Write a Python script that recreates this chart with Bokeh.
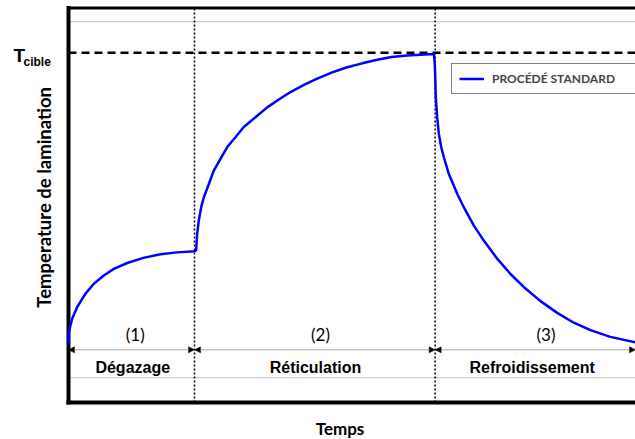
import math
from bokeh.plotting import figure
from bokeh.models import Arrow, NormalHead, Legend, LegendItem, ColumnDataSource
from bokeh.core.properties import value
from bokeh.embed import file_html
from bokeh.resources import INLINE

# ---- data ----
time = [0, 0.05, 0.29, 0.69, 1.35, 2.01, 2.8, 3.6, 4.66, 5.94, 7.3, 8.63, 10.0,
        10.13, 10.21, 10.34, 10.53, 10.74, 11.14, 11.53, 12.06, 12.6, 13.25, 13.91,
        14.84, 15.77, 16.69, 17.62, 18.68, 19.74, 20.93, 22.12, 23.31, 24.5, 25.65,
        26.88, 27.94, 29.0,
        29.07, 29.1, 29.15, 29.26, 29.39, 29.58, 29.79, 30.18, 30.85, 31.37, 32.17,
        32.96, 34.02, 35.08, 36.13, 37.46, 38.79, 40.1, 41.43, 43.0, 45.0]
temperature = [15.0, 18.3, 21.3, 24.3, 27.7, 30.2, 32.3, 34.0, 35.5, 36.8, 37.7, 38.2, 38.5,
               38.7, 42.9, 46.3, 49.7, 52.2, 55.6, 59.0, 62.0, 65.0, 67.5, 70.1,
               72.6, 75.1, 77.1, 79.0, 80.8, 82.4, 84.0, 85.3, 86.3, 87.2, 87.9,
               88.3, 88.5, 88.7,
               86.2, 83.6, 77.7, 72.6, 68.4, 65.0, 62.4, 58.2, 53.1, 49.7, 45.0,
               41.2, 36.6, 32.7, 29.4, 25.8, 22.8, 20.3, 18.4, 16.7, 15.3]
phase_bounds = [0, 10, 29.1, 45]
phase_names = ["Dégazage", "Réticulation", "Refroidissement"]
phase_numbers = ["(1)", "(2)", "(3)"]
name_x = [5.1, 19.6, 36.8]
number_x = [5.3, 20.0, 37.9]
t_cible = 89
series_label = "PROCÉDÉ STANDARD"
x_title = "Temps"
y_title = "Temperature de lamination"

X0, X1 = phase_bounds[0], phase_bounds[-1]
p = figure(width=635, height=439, x_range=(-68 / 12.6, X1), y_range=(-37 / 3.93, 402 / 3.93),
           output_backend="svg", toolbar_location=None,
           min_border_left=0, min_border_right=0, min_border_top=0, min_border_bottom=0)
p.outline_line_color = None
p.grid.visible = False
p.axis.visible = False
p.background_fill_color = "white"

# light grey rules and phase arrow line
p.segment(x0=[X0, X0], y0=[96.9, 6.3], x1=[X1, X1], y1=[96.9, 6.3],
          line_color="#c0c0c0", line_width=1)
for a, b in zip(phase_bounds[:-1], phase_bounds[1:]):
    p.add_layout(Arrow(x_start=a, y_start=13.4, x_end=b, y_end=13.4,
                       line_color="#a6a6a6", line_width=1,
                       start=NormalHead(size=6, fill_color="black", line_color="black", line_width=0.5),
                       end=NormalHead(size=6, fill_color="black", line_color="black", line_width=0.5)))
# phase boundaries (dotted)
inner = phase_bounds[1:-1]
p.segment(x0=inner, y0=[0] * len(inner), x1=inner, y1=[100.4] * len(inner),
          line_color="black", line_width=1.5, line_dash="2 2")
# target temperature
p.segment(x0=[X0], y0=[t_cible], x1=[X1], y1=[t_cible],
          line_color="black", line_width=2.5, line_dash="8 5")

# frame borders (left, bottom, top)
p.segment(x0=[X0, X0], y0=[0, 0], x1=[X0, X1], y1=[100.4, 0],
          line_color="black", line_width=4, line_cap="square")
p.segment(x0=[X0], y0=[100.4], x1=[X1], y1=[100.4], line_color="black", line_width=3)

src_num = ColumnDataSource(dict(x=number_x, y=[17.3] * 3, t=phase_numbers))
p.text(x="x", y="y", text="t", source=src_num, text_font=value("Lato"),
       text_font_size="17px", text_align="center", text_baseline="middle", text_color="black")
src_name = ColumnDataSource(dict(x=name_x, y=[9.0] * 3, t=phase_names))
p.text(x="x", y="y", text="t", source=src_name, text_font=value("Liberation Sans"),
       text_font_style="bold", text_font_size="16px", text_align="center",
       text_baseline="middle", text_color="black")

r = p.line(time, temperature, line_color="#0000ff", line_width=2.5, line_join="round")

# axis titles and T cible
p.text(x=[-1.98], y=[52.2], text=[y_title], angle=math.pi / 2, text_font=value("Lato"),
       text_font_style="bold", text_font_size="18.5px", text_align="center",
       text_baseline="middle", text_color="black")
p.text(x=[21.55], y=[-6.5], text=[x_title], text_font=value("Lato"),
       text_font_style="bold", text_font_size="17px", text_align="center",
       text_baseline="middle", text_color="black")
p.text(x=[-4.37], y=[88.2], text=["T"], text_font=value("Liberation Sans"),
       text_font_style="bold", text_font_size="19px", text_baseline="middle", text_color="black")
p.text(x=[-3.57], y=[86.7], text=["cible"], text_font=value("Liberation Sans"),
       text_font_style="bold", text_font_size="12px", text_baseline="middle", text_color="black")

legend = Legend(items=[LegendItem(label=series_label, renderers=[r])],
                location=(451, 345), margin=0, padding=7, glyph_width=25, glyph_height=13,
                label_standoff=8, label_width=200, label_height=13,
                label_text_font="Lato", label_text_font_style="bold", label_text_font_size="12px",
                border_line_color="black", border_line_width=1,
                background_fill_color="white", background_fill_alpha=1)
p.add_layout(legend)

open("out.html", "w").write(file_html(p, INLINE))
